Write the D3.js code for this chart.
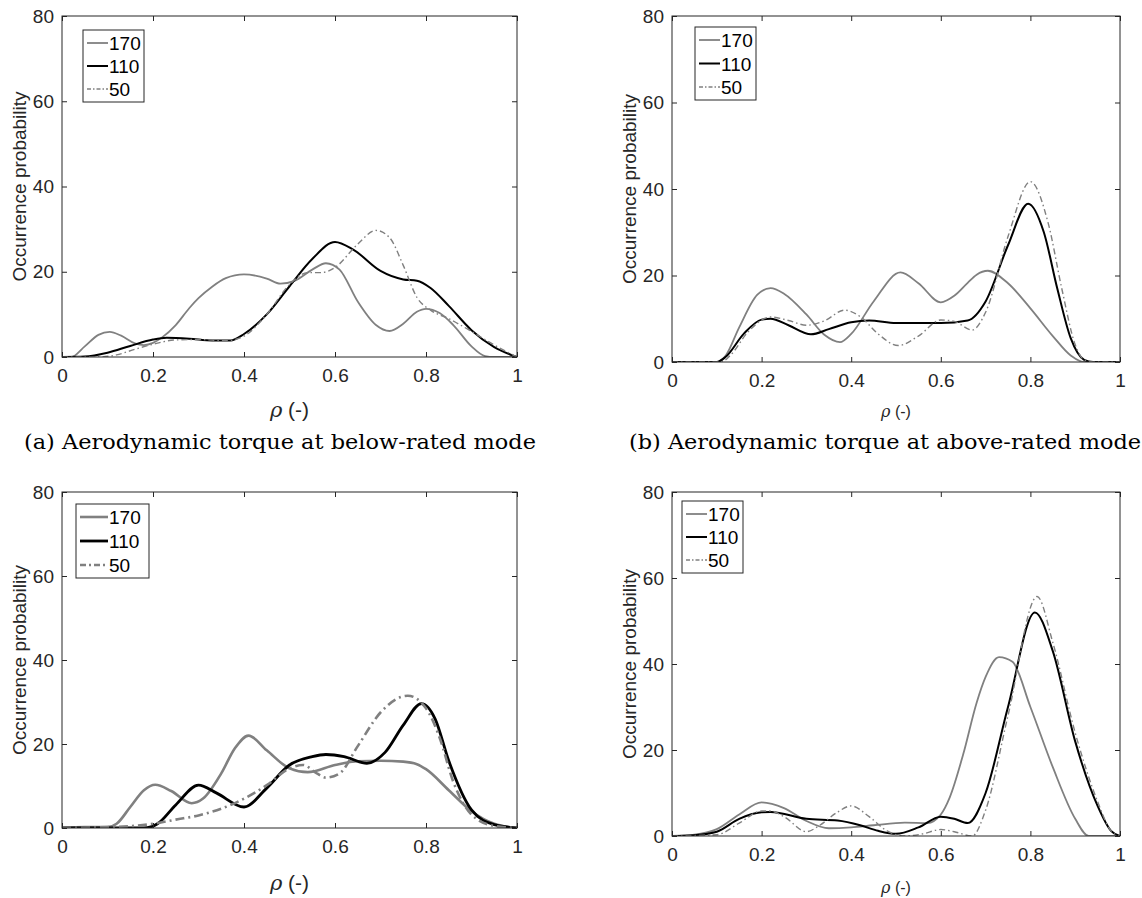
<!DOCTYPE html>
<html><head><meta charset="utf-8">
<script src="https://cdn.jsdelivr.net/npm/d3@7"></script>
<style>body{margin:0;background:#fff}svg{display:block}</style>
</head><body>
<svg id="c" width="1142" height="898"></svg>
<script>
const xTicks = [0, 0.2, 0.4, 0.6, 0.8, 1];
const yTicks = [0, 20, 40, 60, 80];
const seriesNames = ["170", "110", "50"];
const captions = ["(a) Aerodynamic torque at below-rated mode", "(b) Aerodynamic torque at above-rated mode"];

// panel (a) below-rated aerodynamic torque
const a170 = [[0,0],[0.02,0],[0.05,2.5],[0.08,5.2],[0.105,5.9],[0.13,5],[0.16,3.2],[0.18,2.8],[0.2,3.3],[0.22,4.6],[0.25,7.5],[0.28,11.5],[0.3,13.8],[0.33,16.5],[0.36,18.5],[0.4,19.4],[0.45,18.4],[0.48,17.2],[0.51,17.8],[0.55,20.5],[0.58,22],[0.61,20.5],[0.65,13],[0.69,7.5],[0.72,6.1],[0.75,7.8],[0.78,10.6],[0.8,11.3],[0.83,10.3],[0.86,7.5],[0.9,2.5],[0.93,0.2],[0.95,0],[1,0]];
const a110 = [[0,0],[0.05,0.1],[0.1,1],[0.15,2.6],[0.2,4.1],[0.23,4.5],[0.28,4.3],[0.33,3.9],[0.37,3.9],[0.4,5.4],[0.45,10],[0.5,16.6],[0.55,23],[0.6,27],[0.64,25.2],[0.7,20.2],[0.75,18.2],[0.78,17.9],[0.81,16.2],[0.85,12],[0.9,6.3],[0.95,2.3],[1,0]];
const a50 = [[0,0],[0.08,0],[0.12,0.5],[0.16,1.8],[0.2,3],[0.25,4],[0.3,4.1],[0.36,3.8],[0.4,4.9],[0.45,10],[0.5,17],[0.54,19.8],[0.57,19.8],[0.6,21],[0.65,26.5],[0.69,29.7],[0.72,28],[0.75,21.5],[0.78,14],[0.81,11],[0.85,9],[0.9,6],[0.95,2.8],[1,0]];

// panel (b) above-rated aerodynamic torque
const b170 = [[0,0],[0.1,0],[0.12,1.5],[0.15,8],[0.19,15.5],[0.22,17.1],[0.25,15.8],[0.3,11],[0.34,6.3],[0.375,4.6],[0.4,6.5],[0.45,14],[0.51,20.7],[0.55,18.2],[0.6,13.8],[0.63,15.3],[0.66,18.3],[0.68,20.2],[0.705,21.1],[0.75,18.2],[0.8,12.4],[0.85,6],[0.89,1.5],[0.92,0],[1,0]];
const b110 = [[0,0],[0.1,0],[0.12,1.2],[0.16,6.5],[0.2,9.8],[0.22,10],[0.26,8.5],[0.31,6.4],[0.35,7.6],[0.4,9.2],[0.44,9.6],[0.5,9],[0.6,9],[0.66,9.6],[0.7,14],[0.75,27],[0.795,36.6],[0.83,30],[0.86,17],[0.89,5.5],[0.92,0.5],[0.94,0],[1,0]];
const b50 = [[0,0],[0.11,0],[0.13,1.5],[0.17,7],[0.22,10.4],[0.26,9.6],[0.3,8.5],[0.34,9.5],[0.385,12],[0.42,10.5],[0.46,6.5],[0.505,3.8],[0.55,6],[0.6,9.7],[0.63,9.4],[0.67,7.4],[0.7,11.5],[0.75,29],[0.8,41.7],[0.84,32],[0.87,17],[0.9,4],[0.92,0.5],[0.94,0],[1,0]];

// panel (c)
const c170 = [[0,0],[0.05,0.2],[0.1,0.2],[0.12,1],[0.15,5],[0.18,9],[0.205,10.3],[0.24,8.8],[0.285,5.9],[0.31,7],[0.35,13],[0.38,19],[0.41,22],[0.45,18.5],[0.5,14.2],[0.54,13.3],[0.6,15],[0.65,15.9],[0.7,16],[0.75,15.8],[0.78,15.2],[0.8,14],[0.85,9],[0.9,4],[0.95,1],[1,0]];
const c110 = [[0,0],[0.18,0],[0.21,1],[0.25,5.5],[0.3,10.2],[0.34,8.3],[0.4,5],[0.45,9.5],[0.5,15],[0.55,17],[0.58,17.5],[0.62,17],[0.67,15.4],[0.71,18],[0.75,24.5],[0.79,29.6],[0.82,26],[0.85,16],[0.9,4.3],[0.95,0.8],[1,0]];
const c50 = [[0,0],[0.1,0.2],[0.2,1],[0.25,2],[0.3,3],[0.35,4.6],[0.4,7],[0.45,10.2],[0.5,14.2],[0.53,15],[0.56,13],[0.58,12],[0.61,13],[0.65,19.5],[0.7,27.5],[0.76,31.5],[0.8,28.5],[0.83,21.5],[0.86,11],[0.9,3.2],[0.95,0.5],[1,0]];

// panel (d)
const d170 = [[0,0],[0.05,0.3],[0.1,1.6],[0.15,5],[0.2,7.8],[0.25,6.5],[0.3,3.5],[0.35,1.8],[0.4,2],[0.45,2.5],[0.52,3.1],[0.57,3],[0.6,5],[0.62,9],[0.65,19],[0.68,31],[0.7,37],[0.73,41.6],[0.76,40.5],[0.8,30],[0.85,16],[0.9,4],[0.93,0],[1,0]];
const d110 = [[0,0],[0.05,0.2],[0.1,1],[0.15,4],[0.2,5.5],[0.22,5.6],[0.3,4],[0.37,3.6],[0.42,2.5],[0.46,1.2],[0.5,0.5],[0.55,2],[0.6,4.5],[0.63,4],[0.66,3],[0.7,10],[0.75,30],[0.81,52],[0.85,43],[0.9,22],[0.95,7],[0.98,1.2],[1,0]];
const d50 = [[0,0],[0.1,0.3],[0.15,3],[0.2,5.8],[0.22,5.8],[0.25,4.5],[0.3,1],[0.33,2.5],[0.37,5.6],[0.4,7],[0.44,4.5],[0.48,1.2],[0.52,0],[0.56,0.5],[0.6,1.5],[0.63,1],[0.67,0],[0.7,6],[0.75,28],[0.815,55.7],[0.85,45],[0.9,24],[0.95,8],[0.98,1.2],[1,0]];

const svg = d3.select("#c");
const axisCol = "#262626";
const gray = "#808080";
const sans = "'Liberation Sans', Arial, sans-serif";

const panels = [
  {l:62,r:517,t:16,b:357, data:[a170,a110,a50], lw:[1.8,2,1.4], legend:{x:83,y:30,w:61,h:72}, xlabY:417, xlabSize:21, caption:0, capY:449, capX:280},
  {l:672,r:1120,t:16,b:362, data:[b170,b110,b50], lw:[1.8,2,1.4], legend:{x:695,y:27,w:61,h:73}, xlabY:417, xlabSize:16, caption:1, capY:449, capX:885},
  {l:62,r:517,t:492,b:828, data:[c170,c110,c50], lw:[2.6,2.8,2.6], legend:{x:76,y:504,w:73,h:74}, xlabY:890, xlabSize:21},
  {l:672,r:1120,t:492,b:836, data:[d170,d110,d50], lw:[1.8,2,1.4], legend:{x:682,y:501,w:61,h:72}, xlabY:893, xlabSize:16}
];
const colors = [gray, "#000", gray];

panels.forEach(p => {
  const x = d3.scaleLinear().domain([0,1]).range([p.l,p.r]);
  const y = d3.scaleLinear().domain([0,80]).range([p.b,p.t]);
  const g = svg.append("g");
  const line = d3.line().x(d=>x(d[0])).y(d=>y(d[1])).curve(d3.curveMonotoneX);
  const clipId = "clip"+p.l+"_"+p.t;
  svg.append("clipPath").attr("id",clipId).append("rect").attr("x",p.l).attr("y",p.t).attr("width",p.r-p.l).attr("height",p.b-p.t);
  const lg = g.append("g").attr("clip-path","url(#"+clipId+")");
  p.data.forEach((s,i)=>{
    lg.append("path").attr("d",line(s)).attr("fill","none").attr("stroke",colors[i])
      .attr("stroke-width",p.lw[i]).attr("stroke-linejoin","round")
      .attr("stroke-dasharray", i===2 ? (p.lw[i]>2 ? "9,4,2,4" : "6,3,1.5,3") : null);
  });
  const xb = d3.axisBottom(x).tickValues(xTicks).tickSizeInner(-5).tickSizeOuter(0).tickPadding(12).tickFormat(d=>d===0||d===1?String(d):d3.format(".1f")(d));
  const xt = d3.axisTop(x).tickValues(xTicks).tickSizeInner(-5).tickSizeOuter(0).tickFormat("");
  const yl = d3.axisLeft(y).tickValues(yTicks).tickSizeInner(-5).tickSizeOuter(0).tickPadding(8);
  const yr = d3.axisRight(y).tickValues(yTicks).tickSizeInner(-5).tickSizeOuter(0).tickFormat("");
  [[xb,`translate(0,${p.b})`],[xt,`translate(0,${p.t})`],[yl,`translate(${p.l},0)`],[yr,`translate(${p.r},0)`]].forEach(([ax,tr])=>{
    const a = g.append("g").attr("transform",tr).call(ax);
    a.select(".domain").remove();
    a.selectAll("line").attr("stroke",axisCol).attr("stroke-width",1);
    a.selectAll("text").attr("fill",axisCol).style("font-family",sans).style("font-size","19px");
  });
  g.append("rect").attr("x",p.l).attr("y",p.t).attr("width",p.r-p.l).attr("height",p.b-p.t)
    .attr("fill","none").attr("stroke",axisCol).attr("stroke-width",1);
  g.append("text").attr("transform",`translate(${p.l-36},${(p.t+p.b)/2}) rotate(-90)`)
    .attr("text-anchor","middle").attr("fill",axisCol)
    .style("font-family",sans).style("font-size","19px").text("Occurrence probability");
  const xl = g.append("text").attr("x",(p.l+p.r)/2).attr("y",p.xlabY).attr("text-anchor","middle").attr("fill",axisCol)
    .style("font-size",p.xlabSize+"px");
  xl.append("tspan").style("font-family","'DejaVu Serif', serif").style("font-style","italic").text("ρ");
  xl.append("tspan").style("font-family",sans).text(" (-)");
  const L = p.legend;
  const lgd = g.append("g");
  lgd.append("rect").attr("x",L.x).attr("y",L.y).attr("width",L.w).attr("height",L.h).attr("fill","#fff").attr("stroke",axisCol).attr("stroke-width",1);
  seriesNames.forEach((n,i)=>{
    const yy = L.y + 13 + i*(L.h-26)/2;
    const ll = L.w > 65 ? 28 : 21;
    lgd.append("line").attr("x1",L.x+4).attr("x2",L.x+4+ll).attr("y1",yy).attr("y2",yy)
      .attr("stroke",colors[i]).attr("stroke-width",p.lw[i])
      .attr("stroke-dasharray", i===2 ? (p.lw[i]>2 ? "6,3,2,3" : "4,2,1.5,2") : null);
    lgd.append("text").attr("x",L.x+5+ll).attr("y",yy+7).attr("fill","#000")
      .style("font-family",sans).style("font-size","19px").text(n);
  });
  if (p.caption !== undefined) {
    svg.append("text").attr("x",p.capX).attr("y",p.capY).attr("text-anchor","middle").attr("fill","#000")
      .attr("textLength",512).attr("lengthAdjust","spacingAndGlyphs")
      .style("font-family","'DejaVu Serif', serif").style("font-size","20px").text(captions[p.caption]);
  }
});
</script>
</body></html>
